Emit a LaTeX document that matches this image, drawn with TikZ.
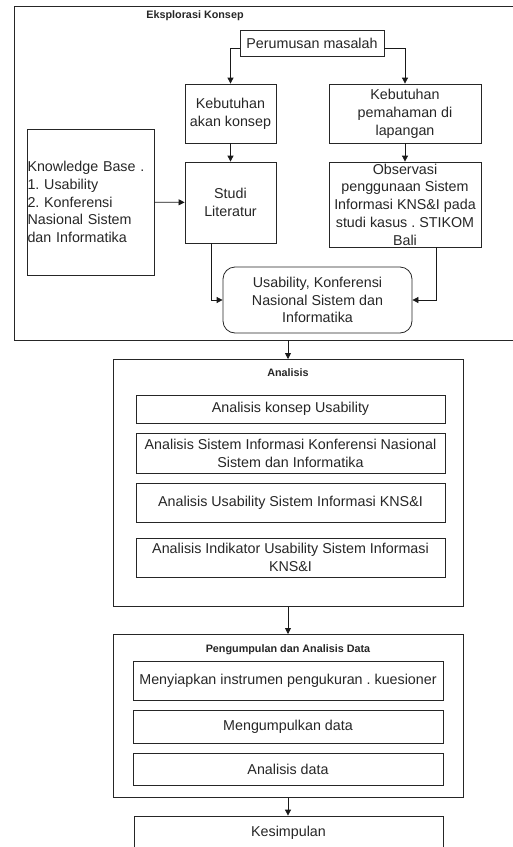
\documentclass[tikz,border=0pt]{standalone}
\usepackage{fontspec}
\setmainfont{Liberation Sans}
\usetikzlibrary{arrows.meta}
\frenchspacing

\begin{document}
\begin{tikzpicture}[x=1pt,y=-1pt]
        \tikzstyle{every node}=[inner sep=0.5pt, font=\fontsize{14.3}{17.8}\selectfont, text=black!85]
        \tikzstyle{kotak}=[draw=black!85, line width=0.8pt, align=center]
        \tikzstyle{wadah}=[kotak, minimum width=350, anchor=north]
        \tikzstyle{judul}=[font=\fontsize{10.8}{12}\selectfont\bfseries]
        \tikzstyle{panah}=[draw=black!90, line width=0.8pt, -{Triangle[length=6pt,width=6pt]}]
        \useasboundingbox (0,0) rectangle (513,847);
        % Eksplorasi Konsep
        \node[kotak, minimum width=508, minimum height=334] (eks) at (268,173) {};
        \node[judul] (eksT) at (195,16) {Eksplorasi Konsep};
        \node[kotak, minimum width=144, minimum height=26] (per) at (312,43) {Perumusan masalah};
        \node[kotak, minimum width=91, minimum height=59] (kak) at (230.5,113.5) {Kebutuhan\\akan konsep};
        \node[kotak, minimum width=152, minimum height=59] (kpl) at (405,113.5) {Kebutuhan\\pemahaman di\\lapangan};
        \node[kotak, minimum width=91, minimum height=81] (stl) at (230.5,202.5) {Studi\\Literatur};
        \node[kotak, minimum width=152, minimum height=85] (obs) at (405,204.5) {Observasi\\penggunaan Sistem\\Informasi KNS\&I pada\\studi kasus . STIKOM\\Bali};
        \node[kotak, align=left, text width=126, minimum height=146] (kb) at (90.5,202) {Knowledge Base .\\1. Usability\\2. Konferensi\\Nasional Sistem\\dan Informatika};
        \node[kotak, rounded corners=12pt, minimum width=189, minimum height=66] (usa) at (317.5,300) {Usability, Konferensi\\Nasional Sistem dan\\Informatika};
        \draw[panah] ([yshift=-5pt]per.west) -| (kak.north);
        \draw[panah] ([yshift=-5pt]per.east) -| (kpl.north);
        \draw[panah] (kak) -- (stl);
        \draw[panah] (kpl) -- (obs);
        \draw[panah] (kb) -- (stl);
        \draw[panah] ([xshift=-19pt]stl.south) |- (usa.west);
        \draw[panah] ([xshift=31pt]obs.south) |- (usa.east);
        % Analisis
        \node[wadah, minimum height=247] (ana) at (288,359) {};
        \node[judul] (anaT) at (288,373) {Analisis};
        \node[kotak, minimum width=309, minimum height=28] (a1) at (290.5,409) {Analisis konsep Usability};
        \node[kotak, minimum width=309, minimum height=40] (a2) at (290.5,453) {Analisis Sistem Informasi Konferensi Nasional\\Sistem dan Informatika};
        \node[kotak, minimum width=309, minimum height=39] (a3) at (290.5,502.5) {Analisis Usability Sistem Informasi KNS\&I};
        \node[kotak, minimum width=309, minimum height=39] (a4) at (290.5,557.5) {Analisis Indikator Usability Sistem Informasi\\KNS\&I};
        \draw[panah] (eks.south -| ana.north) -- (ana.north);
        % Pengumpulan dan Analisis Data
        \node[wadah, minimum height=163] (pen) at (288,634) {};
        \node[judul] (penT) at (288,650) {Pengumpulan dan Analisis Data};
        \node[kotak, minimum width=310, minimum height=39] (p1) at (288,680.5) {Menyiapkan instrumen pengukuran . kuesioner};
        \node[kotak, minimum width=310, minimum height=33] (p2) at (288,726.5) {Mengumpulkan data};
        \node[kotak, minimum width=310, minimum height=32] (p3) at (288,769) {Analisis data};
        \draw[panah] (ana.south) -- (pen.north);
        % Kesimpulan
        \node[kotak, minimum width=309, minimum height=33] (kes) at (288.5,832.5) {Kesimpulan};
        \draw[panah] (pen.south) -- (pen.south |- kes.north);
    \end{tikzpicture}
\end{document}
